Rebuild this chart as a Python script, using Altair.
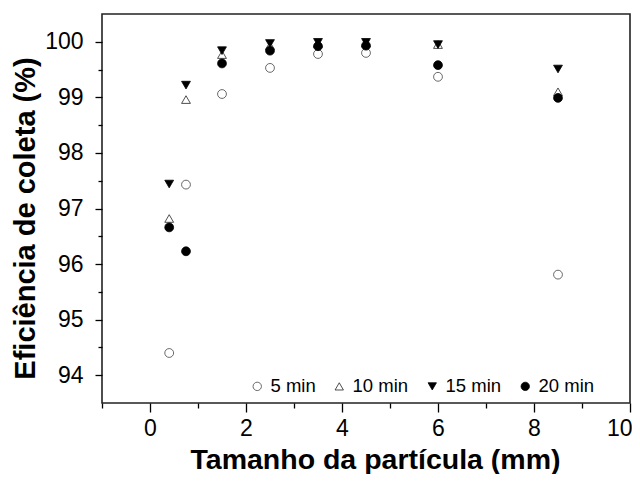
import altair as alt
import pandas as pd

# Particle size (mm)
sizes_mm = [0.4, 0.75, 1.5, 2.5, 3.5, 4.5, 6.0, 8.5]

# Collection efficiency (%) per sampling time
eff_5min = [94.40, 97.43, 99.06, 99.53, 99.78, 99.80, 99.37, 95.81]
eff_10min = [96.82, 98.96, 99.77, 99.93, 99.97, 99.98, 99.95, 99.10]
eff_15min = [97.44, 99.22, 99.84, 99.97, 99.99, 99.99, 99.95, 99.51]
eff_20min = [96.66, 96.23, 99.61, 99.84, 99.92, 99.93, 99.58, 98.99]

series = ["5 min", "10 min", "15 min", "20 min"]
series_values = [eff_5min, eff_10min, eff_15min, eff_20min]
series_shapes = ["circle", "triangle-up", "triangle-down", "circle"]
series_fills = ["white", "white", "black", "black"]
series_strokes = ["#444444", "#222222", "black", "black"]

x_ticks = list(range(-1, 11))
y_ticks = [94 + 0.5 * i for i in range(13)]

rows = []
for name, vals in zip(series, series_values):
    for xv, yv in zip(sizes_mm, vals):
        rows.append({"Tempo": name, "Tamanho": xv, "Eficiencia": yv})
df = pd.DataFrame(rows)

FONT = "Liberation Sans"

legend_def = alt.Legend(
    title=None,
    orient="none",
    direction="horizontal",
    legendX=146,
    legendY=363,
    labelFont=FONT,
    labelFontSize=18.5,
    labelColor="black",
    labelOffset=4,
    columnPadding=14,
    symbolSize=70,
    symbolStrokeWidth=0.8,
    padding=0,
)

chart = alt.Chart(df).mark_point(
    filled=True, size=78, strokeWidth=0.8, opacity=1
).encode(
    x=alt.X(
        "Tamanho:Q",
        scale=alt.Scale(domain=[-1, 10], nice=False, zero=False),
        axis=alt.Axis(
            title="Tamanho da partícula (mm)",
            values=x_ticks,
            labelExpr="datum.value % 2 === 0 ? format(datum.value, 'd') : ''",
            tickSize={"condition": {"test": "datum.value % 2 === 0", "value": 9}, "value": 5},
            labelAlign={"condition": {"test": "datum.value === 10", "value": "right"}, "value": "center"},
            labelOffset={"condition": {"test": "datum.value === 10", "value": 2}, "value": 0},
            tickColor="black",
            tickWidth=1.3,
            labelFont=FONT,
            labelFontSize=23,
            labelColor="black",
            labelPadding=5,
            labelFlush=False,
            grid=False,
            domain=False,
            titleFont=FONT,
            titleFontSize=28.5,
            titleFontWeight="bold",
            titleColor="black",
            titleX=273,
            titleY=65,
            titleAlign="center",
            titleBaseline="alphabetic",
        ),
    ),
    y=alt.Y(
        "Eficiencia:Q",
        scale=alt.Scale(domain=[93.5, 100.5], nice=False, zero=False),
        axis=alt.Axis(
            title="Eficiência de coleta (%)",
            values=y_ticks,
            labelExpr="datum.value % 1 === 0 ? format(datum.value, 'd') : ''",
            tickSize={"condition": {"test": "datum.value % 1 === 0", "value": 7}, "value": 4},
            tickColor="black",
            tickWidth=1.3,
            labelFont=FONT,
            labelFontSize=23,
            labelColor="black",
            labelPadding=12,
            labelFlush=False,
            grid=False,
            domain=False,
            titleFont=FONT,
            titleFontSize=29,
            titleFontWeight="bold",
            titleColor="black",
            titleAngle=270,
            titleX=-68,
            titleY=204,
            titleAlign="center",
            titleBaseline="alphabetic",
        ),
    ),
    shape=alt.Shape(
        "Tempo:N",
        scale=alt.Scale(domain=series, range=series_shapes),
        legend=legend_def,
    ),
    fill=alt.Fill(
        "Tempo:N",
        scale=alt.Scale(domain=series, range=series_fills),
        legend=legend_def,
    ),
    stroke=alt.Stroke(
        "Tempo:N",
        scale=alt.Scale(domain=series, range=series_strokes),
        legend=legend_def,
    ),
).properties(
    width=528,
    height=389,
    autosize=alt.AutoSizeParams(type="none"),
    padding={"left": 94, "top": 6, "right": 2, "bottom": 71},
    background="white",
).configure_view(
    stroke="#222222", strokeWidth=1.6
)

chart.save("out.html", embed_options={"renderer": "svg", "actions": False})
